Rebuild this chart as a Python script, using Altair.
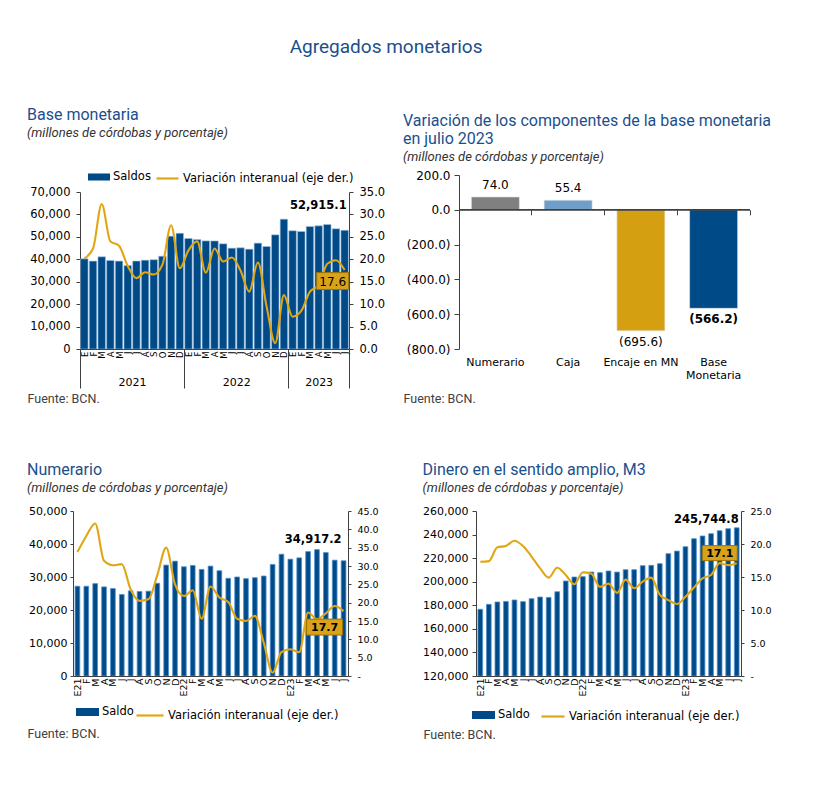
import altair as alt
import pandas as pd

FONT_T = "Roboto"
FONT_A = "DejaVu Sans"
TITLE_BLUE = "#1b4f8c"
NAVY = "#004b87"
GOLD = "#e0a614"
BOX_FILL = "#d8a21a"
BOX_EDGE = "#9c7205"
AXC = "#404040"

MAIN_TITLE = "Agregados monetarios"
SUBT = "(millones de córdobas y porcentaje)"
FUENTE = "Fuente: BCN."
LINE_NAME = "Variación interanual (eje der.)"

# ---------------- Panel 1: Base monetaria ----------------
BM_TITLE = "Base monetaria"
BM_MONTHS = ["E", "F", "M", "A", "M", "J", "J", "A", "S", "O", "N", "D",
             "E", "F", "M", "A", "M", "J", "J", "A", "S", "O", "N", "D",
             "E", "F", "M", "A", "M", "J", "J"]
BM_YEARS = ["2021", "2022", "2023"]
BM_SALDOS = [40200, 39200, 41100, 39500, 39200, 37200, 39200, 39600, 39800, 41400, 50300, 51600,
             49300, 48800, 48200, 48200, 46900, 44950, 45100, 44500, 47200, 45700, 50900, 57900,
             52700, 52400, 54600, 54900, 55500, 53600, 52915.1]
BM_VAR = [20.2, 22.4, 32.3, 24.0, 23.0, 18.5, 15.8, 17.1, 16.6, 18.8, 27.6, 18.0,
          22.0, 24.0, 17.0, 22.4, 19.5, 20.4, 17.5, 12.8, 19.3, 9.5, 1.3, 12.0,
          7.2, 8.5, 12.8, 14.2, 19.0, 19.8, 17.6]
BM_LEFT_TICKS = [0, 10000, 20000, 30000, 40000, 50000, 60000, 70000]
BM_RIGHT_TICKS = [0, 5, 10, 15, 20, 25, 30, 35]

# ---------------- Panel 2: componentes ----------------
COMP_TITLE = ["Variación de los componentes de la base monetaria", "en julio 2023"]
COMP_CATS = ["Numerario", "Caja", "Encaje en MN", "Base Monetaria"]
COMP_VALS = [74.0, 55.4, -695.6, -566.2]
COMP_COLORS = ["#808080", "#6f9fc8", "#d4a012", "#004b87"]
COMP_TICKS = [-800, -600, -400, -200, 0, 200]

# ---------------- Panel 3: Numerario ----------------
NUM_TITLE = "Numerario"
MONTHS_YY = ["E21", "F", "M", "A", "M", "J", "J", "A", "S", "O", "N", "D",
             "E22", "F", "M", "A", "M", "J", "J", "A", "S", "O", "N", "D",
             "E23", "F", "M", "A", "M", "J", "J"]
NUM_SALDO = [27200, 27200, 28000, 27000, 26500, 24700, 25800, 25600, 25700, 28100, 33600, 34800,
             33100, 33500, 32300, 33300, 31900, 29600, 30000, 29500, 29800, 30300, 33800, 36900,
             35400, 35800, 37700, 38300, 37400, 35100, 34917.2]
NUM_VAR = [33.8, 38.2, 41.6, 31.4, 30.2, 30.5, 23.6, 20.5, 20.9, 27.5, 35.0, 25.0,
           21.8, 23.4, 15.6, 24.4, 21.4, 20.2, 15.6, 15.0, 16.4, 9.1, 0.9, 6.5,
           7.3, 6.5, 17.3, 15.5, 17.1, 19.1, 17.7]
NUM_LEFT_TICKS = [0, 10000, 20000, 30000, 40000, 50000]
NUM_RIGHT_TICKS = [0, 5, 10, 15, 20, 25, 30, 35, 40, 45]

# ---------------- Panel 4: M3 ----------------
M3_TITLE = "Dinero en el sentido amplio, M3"
M3_SALDO = [176600, 180800, 182800, 183300, 184500, 183100, 185600, 187000, 186700, 191500, 200600, 204000,
            204300, 208200, 207700, 209100, 208200, 210200, 210200, 213600, 213900, 215300, 223800, 226000,
            229700, 236500, 238800, 240800, 243300, 245000, 245744.8]
M3_VAR = [17.3, 17.4, 19.5, 19.7, 20.5, 19.7, 18.1, 16.3, 14.9, 16.4, 15.3, 13.9,
          15.7, 15.5, 13.5, 14.0, 12.6, 14.6, 13.3, 14.3, 14.9, 12.3, 11.5, 10.9,
          12.0, 13.4, 14.8, 15.3, 17.1, 16.8, 17.1]
M3_LEFT_TICKS = [120000, 140000, 160000, 180000, 200000, 220000, 240000, 260000]
M3_RIGHT_TICKS = [0, 5, 10, 15, 20, 25]


def arr_expr(labels):
    return "[" + ",".join("'%s'" % s for s in labels) + "][datum.value]"


def panel_title(text, offset):
    return alt.TitleParams(
        text=text, subtitle=SUBT, anchor="start", frame="bounds",
        font=FONT_T, fontSize=16, fontWeight="normal", color=TITLE_BLUE, lineHeight=18,
        subtitleFont=FONT_T, subtitleFontSize=13, subtitleFontStyle="italic",
        subtitleColor="#333333", subtitlePadding=4, offset=offset)


def y_axis(orient, values, expr, tick, pad, fs=11.5, offset=0):
    return alt.Axis(orient=orient, values=values, labelExpr=expr, grid=False,
                    domain=True, domainColor=AXC, ticks=True, tickColor=AXC, tickSize=tick,
                    labelFont=FONT_A, labelFontSize=fs, labelColor="black",
                    labelPadding=pad, title=None, offset=offset)


def fuente_axis(fx, fy, with_ticks=None, tick_len=0):
    kw = dict(orient="bottom", labels=False, domain=False, grid=False,
              title=FUENTE, titleX=fx, titleY=fy, titleAlign="left", titleBaseline="middle",
              titleAngle=0, titleFont=FONT_T, titleFontSize=12.5, titleFontWeight="normal",
              titleColor="#404040")
    if with_ticks:
        kw.update(values=with_ticks, ticks=True, tickSize=tick_len, tickColor=AXC, tickWidth=1)
    else:
        kw.update(ticks=False)
    return alt.Axis(**kw)


def ts_panel(c):
    labels = c["labels"]
    n = len(labels)
    df = pd.DataFrame({"i": list(range(n)), "saldo": c["saldo"], "var": c["var"],
                       "s": c["bar_name"], "t": LINE_NAME})
    xkw = dict(domain=[-0.5, n - 0.5], nice=False, zero=False)
    if "xrange" in c:
        xkw["range"] = c["xrange"]
    ylkw = dict(domain=c["ydom"], nice=False, zero=False)
    yrkw = dict(domain=c["rdom"], nice=False, zero=False)
    if "yrange" in c:
        ylkw["range"] = c["yrange"]
        yrkw["range"] = c["yrange"]
    xs = alt.Scale(**xkw)
    yl = alt.Scale(**ylkw)
    yr = alt.Scale(**yrkw)
    base = alt.Chart(df)
    hw = c["bar_w"] / 2

    month_axis = alt.Axis(values=list(range(n)), labelExpr=arr_expr(labels), labelAngle=270,
                          labelAlign="right", labelBaseline="middle", labelFont=FONT_A,
                          labelFontSize=c["month_fs"], labelColor="black", labelPadding=2,
                          labelOverlap=False, labelFlush=False, ticks=False, tickSize=0,
                          domain=True, domainColor=AXC, grid=False, title=None)

    bar_legend = alt.Legend(orient="none", legendX=c["lx_bar"], legendY=c["ly"], title=None,
                            symbolType=c["bar_sym"], symbolSize=c["bar_sym_size"],
                            symbolStrokeWidth=0, labelFont=FONT_A, labelFontSize=11.5,
                            labelColor="black", labelOffset=3, padding=0, labelLimit=300)
    line_legend = alt.Legend(orient="none", legendX=c["lx_line"], legendY=c["ly"], title=None,
                             symbolType="stroke", symbolSize=c["line_sym_size"],
                             symbolStrokeWidth=2.2, labelFont=FONT_A, labelFontSize=11.5,
                             labelColor="black", labelOffset=3, padding=0, labelLimit=300)

    bars = base.transform_calculate(
        x0=f"datum.i - {hw}", x1=f"datum.i + {hw}"
    ).mark_bar(stroke=c["edge"], strokeWidth=c["edge_w"], clip=True).encode(
        x=alt.X("x0:Q", scale=xs, axis=month_axis),
        x2="x1:Q",
        y=alt.Y("saldo:Q", scale=yl, axis=y_axis("left", c["lticks"], c["lexpr"], c["ltick"],
                                                  c["lpad"], c["lfs"], c.get("loff", 0))),
        y2=alt.datum(c["ydom"][0]),
        color=alt.Color("s:N", scale=alt.Scale(domain=[c["bar_name"]], range=[NAVY]), legend=bar_legend),
    )

    line = base.mark_line(interpolate="monotone", strokeWidth=2.1).encode(
        x=alt.X("i:Q", scale=xs, axis=None),
        y=alt.Y("var:Q", scale=yr, axis=y_axis("right", c["rticks"], c["rexpr"], c["rtick"],
                                                c["rpad"], c["rfs"])),
        stroke=alt.Stroke("t:N", scale=alt.Scale(domain=[LINE_NAME], range=[GOLD]), legend=line_legend),
    )

    last = base.transform_filter(f"datum.i == {n - 1}")

    vlab = last.transform_calculate(txt="format(datum.saldo, ',.1f')").mark_text(
        align="right", baseline="middle", dx=c["vdx"], dy=c["vdy"], font=FONT_A,
        fontSize=11.5, fontWeight="bold", color="black"
    ).encode(
        x=alt.X("i:Q", scale=xs, axis=c.get("year_axis")),
        y=alt.Y("saldo:Q", scale=yl, axis=None),
        text="txt:N",
    )

    bw, bh = c["box_w"], c["box_h"]
    r = bw / 2.0
    path = f"M-1,{-bh / bw:.3f}H1V{bh / bw:.3f}H-1Z"
    box = last.mark_point(shape=path, filled=True, size=(2 * r) ** 2, color=BOX_FILL,
                          fill=BOX_FILL, stroke=BOX_EDGE, strokeWidth=1, opacity=1,
                          xOffset=c["bdx"], yOffset=c["bdy"]).encode(
        x=alt.X("i:Q", scale=xs, axis=c["fuente_axis"]),
        y=alt.Y("var:Q", scale=yr, axis=None),
    )
    btxt = last.transform_calculate(txt="format(datum.var, '.1f')").mark_text(
        align="center", baseline="middle", dx=c["bdx"], dy=c["bdy"] + 0.5, font=FONT_A,
        fontSize=c["box_fs"], fontWeight=c["box_fw"], color="black"
    ).encode(
        x=alt.X("i:Q", scale=xs, axis=None),
        y=alt.Y("var:Q", scale=yr, axis=None),
        text="txt:N",
    )

    return alt.layer(bars, line, vlab, box, btxt).resolve_scale(
        y="independent"
    ).resolve_axis(x="independent", y="independent").properties(
        width=c["W"], height=c["H"], title=panel_title(c["title"], c["toff"]))


# ---- year grouping for panel 1 (derived from month labels) ----
starts = [k for k, m in enumerate(BM_MONTHS) if m == "E"]
ends = starts[1:] + [len(BM_MONTHS)]
year_centers = [(s + e - 1) / 2 for s, e in zip(starts, ends)]
dividers = [s - 0.5 for s in starts] + [len(BM_MONTHS) - 0.5]
year_expr = " : ".join(f"datum.value == {v} ? '{y}'" for v, y in zip(year_centers, BM_YEARS)) + " : ''"

year_axis = alt.Axis(orient="bottom", values=year_centers, labelExpr=year_expr, ticks=False,
                     tickSize=0, domain=False, grid=False, labelPadding=33, labelBaseline="middle",
                     labelAngle=0, labelFont=FONT_A, labelFontSize=11, labelColor="black",
                     labelFlush=False, labelOverlap=False, title=None)

num_expr0 = "format(datum.value, ',d')"
zero_dash = "datum.value == 0 ? '-' : format(datum.value, '.1f')"

# panel 1: plot area shares its top with panel 2 (row alignment); the data region
# is inset with scale ranges so that the axes sit where the original has them.
p1 = ts_panel(dict(
    labels=BM_MONTHS, saldo=BM_SALDOS, var=BM_VAR, bar_name="Saldos", title=BM_TITLE, toff=26,
    W=276, H=174, xrange=[7, 276], yrange=[174, 17], loff=-7,
    ydom=[0, 70000], rdom=[0, 35], lticks=BM_LEFT_TICKS, rticks=BM_RIGHT_TICKS,
    lexpr=num_expr0, rexpr="format(datum.value, '.1f')", ltick=4, lpad=6, rtick=4, rpad=6,
    lfs=11.5, rfs=11.5,
    bar_w=0.86, edge="#9fc0e3", edge_w=0.6, month_fs=8.5,
    lx_bar=15, lx_line=82, ly=-9, bar_sym="M-1,-0.32H1V0.32H-1Z", bar_sym_size=484, line_sym_size=484,
    vdx=2, vdy=-24, box_w=32, box_h=17, bdx=-12, bdy=11, box_fs=12, box_fw="normal",
    year_axis=year_axis, fuente_axis=fuente_axis(-46, 49, dividers, 39),
))

p3 = ts_panel(dict(
    labels=MONTHS_YY, saldo=NUM_SALDO, var=NUM_VAR, bar_name="Saldo", title=NUM_TITLE, toff=10,
    W=275, H=165, ydom=[0, 50000], rdom=[0, 45], lticks=NUM_LEFT_TICKS, rticks=NUM_RIGHT_TICKS,
    lexpr=num_expr0, rexpr=zero_dash, ltick=3, lpad=3, rtick=3, rpad=6, lfs=11, rfs=9.5,
    bar_w=0.53, edge="#4f8fd0", edge_w=0.8, month_fs=9.5,
    lx_bar=3, lx_line=62, ly=189.5, bar_sym="M-1,-0.35H1V0.35H-1Z", bar_sym_size=529, line_sym_size=729,
    vdx=-2, vdy=-21, box_w=36, box_h=16, bdx=-19, bdy=16, box_fs=11, box_fw="bold",
    fuente_axis=fuente_axis(-46, 57),
))

p4 = ts_panel(dict(
    labels=MONTHS_YY, saldo=M3_SALDO, var=M3_VAR, bar_name="Saldo", title=M3_TITLE, toff=10,
    W=265, H=165, ydom=[120000, 260000], rdom=[0, 25], lticks=M3_LEFT_TICKS, rticks=M3_RIGHT_TICKS,
    lexpr=num_expr0, rexpr=zero_dash, ltick=4, lpad=4, rtick=3, rpad=6, lfs=11, rfs=9.5,
    bar_w=0.55, edge="#4f8fd0", edge_w=0.8, month_fs=9.5,
    lx_bar=-4, lx_line=64, ly=192.5, bar_sym="M-1,-0.35H1V0.35H-1Z", bar_sym_size=529, line_sym_size=529,
    vdx=2, vdy=-8, box_w=35, box_h=15, bdx=-17, bdy=-10, box_fs=11, box_fw="bold",
    fuente_axis=fuente_axis(-53, 58),
))

# ---------------- Panel 2 ----------------
W2, H2 = 291, 174
df2 = pd.DataFrame({"cat": COMP_CATS, "val": COMP_VALS, "col": COMP_COLORS})
base2 = alt.Chart(df2).transform_calculate(
    lab="datum.val < 0 ? '(' + format(-datum.val, ',.1f') + ')' : format(datum.val, ',.1f')"
)
xs2 = alt.Scale(domain=COMP_CATS, paddingInner=0, paddingOuter=0)
ys2 = alt.Scale(domain=[-800, 200], nice=False, zero=False)
cat_axis = alt.Axis(orient="bottom", labelExpr="datum.value == 'Base Monetaria' ? ['Base', 'Monetaria'] : datum.value",
                    labelAngle=0, labelFont=FONT_A, labelFontSize=11, labelColor="black",
                    labelPadding=7, labelLineHeight=13, labelBaseline="top", ticks=False, tickSize=0,
                    domain=False, grid=False, title=FUENTE, titleX=-56, titleY=49, titleAlign="left",
                    titleBaseline="middle", titleAngle=0, titleFont=FONT_T, titleFontSize=12.5,
                    titleFontWeight="normal", titleColor="#404040")
y2_axis = alt.Axis(orient="left", values=COMP_TICKS,
                   labelExpr="datum.value < 0 ? '(' + format(-datum.value, ',.1f') + ')' : format(datum.value, ',.1f') + '\u00a0'",
                   grid=False, domain=True, domainColor=AXC, ticks=True, tickColor=AXC, tickSize=5,
                   labelFont=FONT_A, labelFontSize=12, labelColor="black", labelPadding=4, title=None)
zero_ticks_axis = alt.Axis(orient="bottom", offset=-0.8 * H2, labels=False, domain=False, grid=False,
                           ticks=True, tickSize=5, tickColor=AXC, bandPosition=1, title=None)

bars2 = base2.mark_bar(width=alt.RelativeBandSize(0.66), stroke="#e8e8e8", strokeWidth=0.6).encode(
    x=alt.X("cat:N", scale=xs2, sort=COMP_CATS, axis=cat_axis),
    y=alt.Y("val:Q", scale=ys2, axis=y2_axis),
    y2=alt.datum(0),
    color=alt.Color("col:N", scale=None, legend=None),
)
zero_rule = base2.mark_rule(color=AXC, strokeWidth=1).encode(y=alt.Y(datum=0, scale=ys2, axis=None))
txt_pos = base2.transform_filter("datum.val >= 0").mark_text(
    baseline="bottom", dy=-5, font=FONT_A, fontSize=12, color="black").encode(
    x=alt.X("cat:N", scale=xs2, sort=COMP_CATS, axis=zero_ticks_axis),
    y=alt.Y("val:Q", scale=ys2, axis=None), text="lab:N")
txt_neg = base2.transform_filter("datum.val < 0 && datum.cat != 'Base Monetaria'").mark_text(
    baseline="top", dy=6, font=FONT_A, fontSize=12, color="black").encode(
    x=alt.X("cat:N", scale=xs2, sort=COMP_CATS, axis=None),
    y=alt.Y("val:Q", scale=ys2, axis=None), text="lab:N")
txt_bold = base2.transform_filter("datum.cat == 'Base Monetaria'").mark_text(
    baseline="top", dy=6, font=FONT_A, fontSize=12, fontWeight="bold", color="black").encode(
    x=alt.X("cat:N", scale=xs2, sort=COMP_CATS, axis=None),
    y=alt.Y("val:Q", scale=ys2, axis=None), text="lab:N")

p2 = alt.layer(bars2, zero_rule, txt_pos, txt_neg, txt_bold).resolve_axis(
    x="independent", y="independent").properties(
    width=W2, height=H2, title=panel_title(COMP_TITLE, 5))

row1 = alt.hconcat(p1, p2, spacing=18).resolve_scale(color="independent", stroke="independent")
row2 = alt.hconcat(p3, p4, spacing=43).resolve_scale(color="independent", stroke="independent")

chart = alt.vconcat(row1, row2, spacing=57).resolve_scale(
    color="independent", stroke="independent").properties(
    title=alt.TitleParams(MAIN_TITLE, anchor="middle", font=FONT_T, fontSize=19, fontWeight="normal",
                          color=TITLE_BLUE, offset=50, dx=-13),
    padding={"left": 19, "top": 30, "right": 5, "bottom": 5},
).configure_view(strokeWidth=0)

chart.save("out.html", embed_options={"renderer": "svg", "actions": False})
